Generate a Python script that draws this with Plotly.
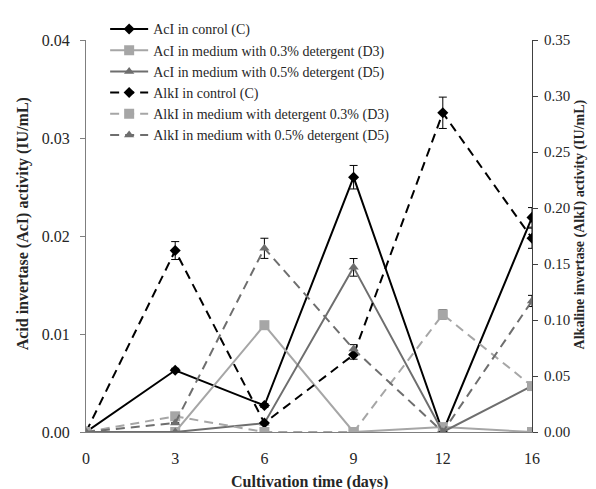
import plotly.graph_objects as go

days = ["0", "3", "6", "9", "12", "16"]

aci_c = [0, 0.0063, 0.0027, 0.0260, 0, 0.0219]
aci_c_err = [0, 0.0002, 0.0002, 0.0012, 0, 0.0010]
aci_d3 = [0, 0, 0.0109, 0, 0.0005, 0]
aci_d3_err = [0, 0, 0.0003, 0, 0, 0]
aci_d5 = [0, 0, 0.0009, 0.0168, 0, 0.0047]
aci_d5_err = [0, 0, 0, 0.0009, 0, 0]

alk_c = [0, 0.162, 0.008, 0.069, 0.285, 0.173]
alk_c_err = [0, 0.008, 0, 0.004, 0.014, 0.009]
alk_d3 = [0, 0.014, 0, 0, 0.105, 0.041]
alk_d3_err = [0, 0, 0, 0, 0.004, 0]
alk_d5 = [0, 0.008, 0.164, 0.074, 0, 0.117]
alk_d5_err = [0, 0, 0.009, 0.004, 0, 0.005]

x_title = "Cultivation time (days)"
y_title = "Acid invertase (AcI) activity (IU/mL)"
y2_title = "Alkaline invertase (AlkI) activity (IU/mL)"

BLACK = "#000000"
LIGHT = "#a6a6a6"
DARK = "#6e6e6e"
DASH = "9px,6px"

series = [
    ("AcI in conrol (C)", aci_c, aci_c_err, BLACK, "solid", "diamond", 8.5, "y"),
    ("AcI in medium with 0.3% detergent (D3)", aci_d3, aci_d3_err, LIGHT, "solid", "square", 10, "y"),
    ("AcI in medium with 0.5% detergent (D5)", aci_d5, aci_d5_err, DARK, "solid", "triangle-up", 9, "y"),
    ("AlkI in control (C)", alk_c, alk_c_err, BLACK, DASH, "diamond", 8.5, "y2"),
    ("AlkI in medium with detergent 0.3% (D3)", alk_d3, alk_d3_err, LIGHT, DASH, "square", 10, "y2"),
    ("AlkI in medium with 0.5% detergent (D5)", alk_d5, alk_d5_err, DARK, DASH, "triangle-up", 9, "y2"),
]

fig = go.Figure()
for name, vals, errs, col, dash, sym, size, ax in series:
    fig.add_trace(go.Scatter(
        x=days, y=vals, name=name, mode="lines+markers", yaxis=ax,
        line=dict(color=col, width=2, dash=dash),
        marker=dict(symbol=sym, size=size, color=col),
        error_y=dict(type="data", array=errs, color=BLACK, thickness=1, width=4),
    ))

font = "Liberation Serif"
TXT = "#262626"
AXC = "#7f7f7f"
fig.update_layout(
    template="none",
    width=596, height=489,
    margin=dict(l=78, r=72, t=32, b=65, autoexpand=False),
    paper_bgcolor="white", plot_bgcolor="white",
    font=dict(family=font, size=15, color=TXT),
    showlegend=True,
    legend=dict(xref="container", yref="container", x=0.163, y=0.989,
                xanchor="left", yanchor="top",
                bgcolor="rgba(0,0,0,0)", font=dict(size=14, family=font, color=TXT),
                tracegroupgap=0, itemwidth=38),
    xaxis=dict(type="category", range=[0, 5], showgrid=False, zeroline=False, automargin=False,
               showline=True, linecolor=AXC, linewidth=1, ticks="",
               tickfont=dict(size=16), ticklabelstandoff=12),
    yaxis=dict(range=[0, 0.04], dtick=0.01, tickformat=".2f", showgrid=False, zeroline=False,
               automargin=False,
               showline=True, linecolor=AXC, linewidth=1, ticks="outside", ticklen=5,
               tickcolor=AXC, tickfont=dict(size=16), ticklabelstandoff=7),
    yaxis2=dict(range=[0, 0.35], dtick=0.05, tickformat=".2f", overlaying="y", side="right",
                automargin=False,
                showgrid=False, zeroline=False, showline=True, linecolor="#404040", linewidth=1,
                ticks="outside", ticklen=5, tickcolor="#404040", tickfont=dict(size=15), ticklabelstandoff=3),
    annotations=[
        dict(text="<b>" + x_title + "</b>", xref="paper", yref="paper", x=0.5, y=-0.128,
             xanchor="center", yanchor="middle", showarrow=False, font=dict(size=16, color=TXT)),
        dict(text="<b>" + y_title + "</b>", xref="paper", yref="paper", x=-0.141, y=0.53,
             xanchor="center", yanchor="middle", textangle=-90, showarrow=False,
             font=dict(size=16, color=TXT)),
        dict(text="<b>" + y2_title + "</b>", xref="paper", yref="paper", x=1.108, y=0.53,
             xanchor="center", yanchor="middle", textangle=-90, showarrow=False,
             font=dict(size=14, color=TXT)),
    ],
)

fig.write_html("out.html")
